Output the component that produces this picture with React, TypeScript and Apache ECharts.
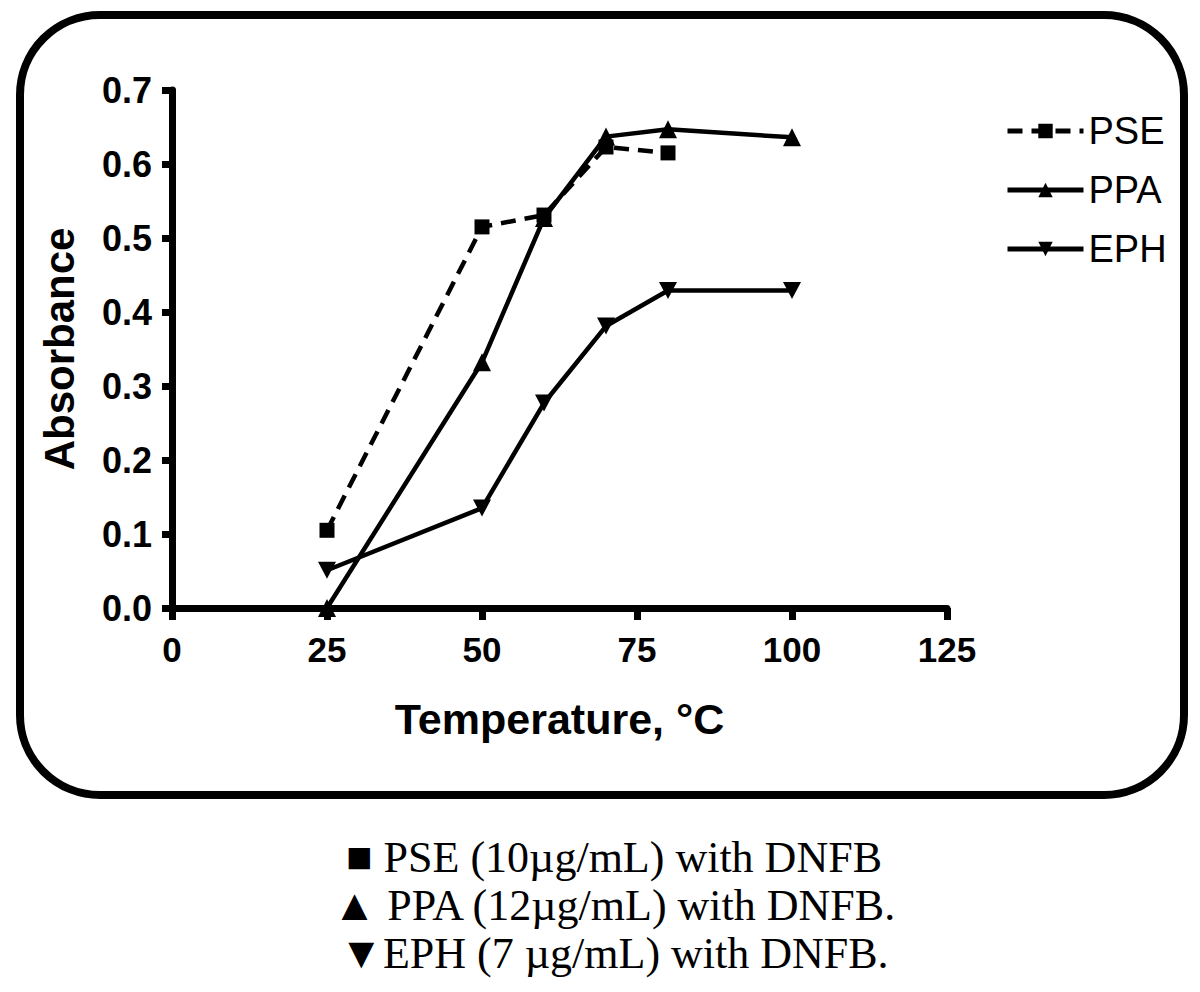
import React, { useEffect, useRef } from "react";
import * as echarts from "echarts";

const temps = [25, 50, 60, 70, 80, 100];
const pseValues = [0.105, 0.515, 0.531, 0.623, 0.615];
const ppaValues = [0.0, 0.332, 0.527, 0.637, 0.647, 0.636];
const ephValues = [0.051, 0.135, 0.277, 0.381, 0.429, 0.429];
const seriesNames = ["PSE", "PPA", "EPH"];
const captionLines = [
  "■ PSE (10µg/mL) with DNFB",
  "▲ PPA (12µg/mL) with DNFB.",
  "▼EPH (7 µg/mL) with DNFB.",
];

const pair = (vals: number[]) => vals.map((v, i) => [temps[i], v]);

const SANS = "'Liberation Sans', Arial, sans-serif";
const SERIF = "'Liberation Serif', 'Times New Roman', serif";
const DOWN_TRI = "path://M0,0 L10,0 L5,9 Z";

export default function App() {
  const ref = useRef<HTMLDivElement>(null);
  useEffect(() => {
    if (!ref.current) return;
    const chart = echarts.init(ref.current, null, { renderer: "svg" });
    const lineBase = { color: "#000", width: 4.5 };
    chart.setOption({
      animation: false,
      backgroundColor: "#fff",
      grid: { left: 172, right: 253, top: 90, bottom: 384, containLabel: false },
      legend: {
        orient: "vertical",
        left: 1000,
        top: 107,
        itemWidth: 76,
        itemHeight: 18,
        itemGap: 21,
        data: seriesNames,
        lineStyle: { width: 5 },
        textStyle: { fontFamily: SANS, fontSize: 38, color: "#000", padding: [0, 0, 0, 0] },
      },
      xAxis: {
        type: "value",
        min: 0,
        max: 125,
        interval: 25,
        name: "Temperature, °C",
        nameLocation: "middle",
        nameGap: 89,
        nameTextStyle: { fontFamily: SANS, fontSize: 43, fontWeight: "bold", color: "#000" },
        axisLine: { show: true, onZero: false, lineStyle: { color: "#000", width: 7 } },
        axisTick: { show: true, length: 12, lineStyle: { color: "#000", width: 7 } },
        axisLabel: { fontFamily: SANS, fontSize: 35, fontWeight: "bold", color: "#000", margin: 24 },
        splitLine: { show: false },
      },
      yAxis: {
        type: "value",
        min: 0,
        max: 0.7,
        interval: 0.1,
        name: "Absorbance",
        nameLocation: "middle",
        nameGap: 92,
        nameTextStyle: { fontFamily: SANS, fontSize: 42, fontWeight: "bold", color: "#000" },
        axisLine: { show: true, lineStyle: { color: "#000", width: 7 } },
        axisTick: { show: true, length: 10, lineStyle: { color: "#000", width: 7 } },
        axisLabel: {
          fontFamily: SANS,
          fontSize: 36,
          fontWeight: "bold",
          color: "#000",
          margin: 20,
          formatter: (v: number) => v.toFixed(1),
        },
        splitLine: { show: false },
      },
      series: [
        {
          name: "PSE",
          type: "line",
          data: pair(pseValues),
          symbol: "rect",
          symbolSize: 15,
          itemStyle: { color: "#000" },
          lineStyle: { ...lineBase, type: [15, 9] },
        },
        {
          name: "PPA",
          type: "line",
          data: pair(ppaValues),
          symbol: "triangle",
          symbolSize: 18,
          itemStyle: { color: "#000" },
          lineStyle: { ...lineBase },
        },
        {
          name: "EPH",
          type: "line",
          data: pair(ephValues),
          symbol: DOWN_TRI,
          symbolSize: [18, 17],
          itemStyle: { color: "#000" },
          lineStyle: { ...lineBase },
        },
      ],
      graphic: [
        {
          type: "rect",
          shape: { x: 20, y: 15, width: 1164, height: 780, r: 80 },
          style: { fill: "none", stroke: "#000", lineWidth: 8 },
          silent: true,
        },
        ...captionLines.map((t, i) => ({
          type: "text",
          x: 614,
          y: 857 + i * 48,
          style: {
            text: t,
            fontFamily: SERIF,
            fontSize: 44,
            fill: "#000",
            textAlign: "center",
            textVerticalAlign: "middle",
          },
          silent: true,
        })),
      ],
    });
    return () => chart.dispose();
  }, []);
  return (
    <div
      ref={ref}
      style={{ position: "fixed", left: 0, top: 0, width: 1200, height: 992, background: "#fff" }}
    />
  );
}
